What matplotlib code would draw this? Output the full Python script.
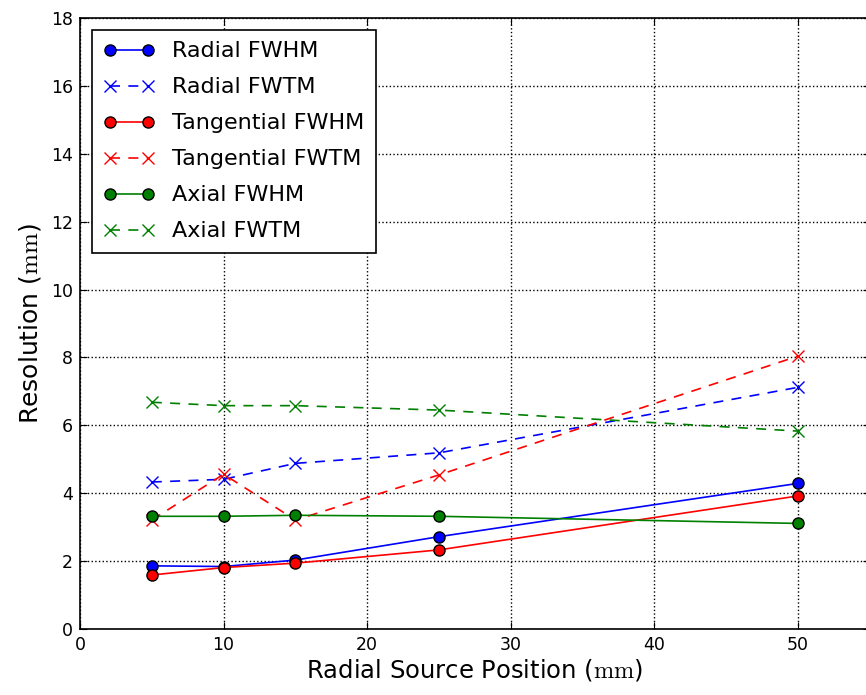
import matplotlib
matplotlib.use("Agg")
import matplotlib.pyplot as plt

# posiciones radiales de la fuente (mm)
posiciones = [5, 10, 15, 25, 50]

# resoluciones (mm)
radial_fwhm = [1.86, 1.84, 2.03, 2.72, 4.29]
radial_fwtm = [4.33, 4.41, 4.88, 5.19, 7.12]
tangencial_fwhm = [1.59, 1.81, 1.94, 2.33, 3.92]
tangencial_fwtm = [3.21, 4.56, 3.21, 4.54, 8.04]
axial_fwhm = [3.32, 3.32, 3.35, 3.32, 3.11]
axial_fwtm = [6.68, 6.58, 6.58, 6.45, 5.83]

plt.rcParams['mathtext.fontset'] = 'cm'
plt.rcParams['font.family'] = 'DejaVu Sans'

fig = plt.figure(figsize=(8.66, 6.95), dpi=100)
ax = fig.add_axes([0.0924, 0.095, 0.912, 0.879])

series = [
    (radial_fwhm, 'b', '-', 'o', 'Radial FWHM'),
    (radial_fwtm, 'b', '--', 'x', 'Radial FWTM'),
    (tangencial_fwhm, 'r', '-', 'o', 'Tangential FWHM'),
    (tangencial_fwtm, 'r', '--', 'x', 'Tangential FWTM'),
    (axial_fwhm, 'g', '-', 'o', 'Axial FWHM'),
    (axial_fwtm, 'g', '--', 'x', 'Axial FWTM'),
]
for valores, color, estilo, marca, nombre in series:
    if marca == 'o':
        ax.plot(posiciones, valores, color=color, linestyle=estilo, marker=marca,
                markersize=8, markeredgecolor='k', linewidth=1.2, label=nombre)
    else:
        ax.plot(posiciones, valores, color=color, linestyle=estilo, marker=marca,
                markersize=9, markeredgewidth=1.0, linewidth=1.2,
                dashes=(6, 5), label=nombre)

ax.set_xlim(0, 55)
ax.set_ylim(0, 18)
ax.set_xticks(range(0, 51, 10))
ax.set_yticks(range(0, 19, 2))
ax.tick_params(direction='in', top=True, right=True, labelsize=12.5, length=5, pad=5)
ax.grid(True, color='k', linestyle=':', linewidth=1)
for s in ax.spines.values():
    s.set_linewidth(1.2)

ax.set_xlabel(r'Radial Source Position ($\mathrm{mm}$)', fontsize=17.5, labelpad=2)
ax.set_ylabel(r'Resolution ($\mathrm{mm}$)', fontsize=18, labelpad=6)

leg = ax.legend(loc='upper left', numpoints=2, fontsize=16, fancybox=False,
                framealpha=1, edgecolor='k', borderaxespad=0.55, handlelength=2.3,
                labelspacing=0.72, handletextpad=0.8, borderpad=0.5)
leg.get_frame().set_linewidth(1.2)

fig.savefig('out.png', dpi=100)
